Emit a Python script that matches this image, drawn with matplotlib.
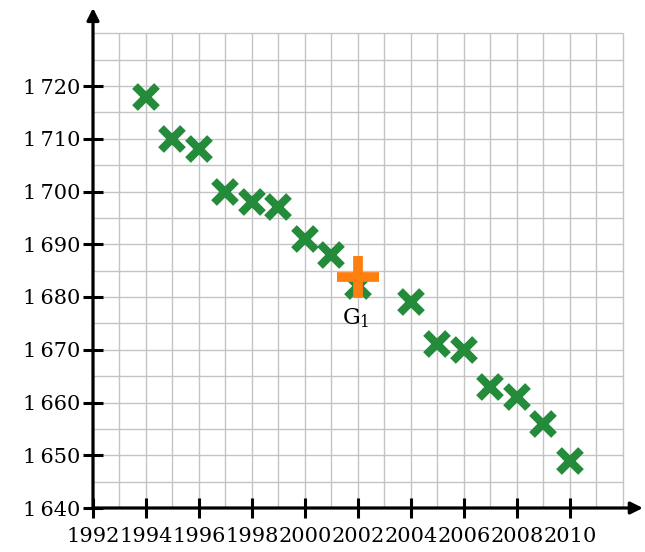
import numpy as np
import matplotlib
matplotlib.use("Agg")
import matplotlib.pyplot as plt

plt.rcParams['font.family'] = ['DejaVu Serif']
plt.rcParams['mathtext.fontset'] = 'dejavuserif'

years = [1994, 1995, 1996, 1997, 1998, 1999, 2000, 2001, 2002,
         2004, 2005, 2006, 2007, 2008, 2009, 2010]
values = [1718, 1710, 1708, 1700, 1698, 1697, 1691, 1688, 1682,
          1679, 1671, 1670, 1663, 1661, 1656, 1649]
g1 = (2002, 1683.8)
g1_label = "G$_1$"

x_ticks = list(range(1992, 2011, 2))
y_ticks = list(range(1640, 1721, 10))
y_tick_labels = ["1\u2009" + str(v)[1:] for v in y_ticks]

W, H = 645, 552
fig = plt.figure(figsize=(W / 100, H / 100), dpi=100)
x0, x1 = 1992, 2012.8
y0, y1 = 1640, 1735
px_per_year = 26.5
px_per_unit = 5.275
left_px, bottom_px = 93, 508
ax = fig.add_axes([left_px / W, (H - bottom_px) / H,
                   (x1 - x0) * px_per_year / W, (y1 - y0) * px_per_unit / H])
ax.set_xlim(x0, x1)
ax.set_ylim(y0, y1)
for s in ax.spines.values():
    s.set_visible(False)

# grid
gx = np.arange(1992, 2013, 1)
gy = np.arange(1640, 1731, 5)
ax.vlines(gx, 1640, 1730, color='#c4c4c4', lw=1.0, zorder=1)
ax.hlines(gy, 1992, 2012, color='#c4c4c4', lw=1.0, zorder=1)

# axes arrows
ax.annotate('', xy=(2012.75, 1640), xytext=(1992, 1640),
            arrowprops=dict(arrowstyle='-|>', lw=2.3, color='black',
                            mutation_scale=18, shrinkA=0, shrinkB=0),
            annotation_clip=False, zorder=3)
ax.annotate('', xy=(1992, 1734.8), xytext=(1992, 1640),
            arrowprops=dict(arrowstyle='-|>', lw=2.3, color='black',
                            mutation_scale=18, shrinkA=0, shrinkB=0),
            annotation_clip=False, zorder=3)

ax.set_xticks(x_ticks)
ax.set_xticklabels([str(v) for v in x_ticks])
ax.set_yticks(y_ticks)
ax.set_yticklabels(y_tick_labels)
ax.tick_params(direction='inout', length=14, width=2.2, color='black',
               labelsize=15)
ax.tick_params(axis='x', pad=7)
ax.tick_params(axis='y', pad=2)

ax.plot(years, values, linestyle='none', marker='x', color='#238b3a',
        markersize=16, markeredgewidth=5.8, zorder=4)
ax.plot([g1[0]], [g1[1]], linestyle='none', marker='+', color='#ff7f0e',
        markersize=30, markeredgewidth=7, zorder=5)
ax.annotate(g1_label, xy=g1, xytext=(-2, -41), textcoords='offset pixels',
            ha='center', va='center', fontsize=16, zorder=6)

fig.savefig('out.png', dpi=100)
